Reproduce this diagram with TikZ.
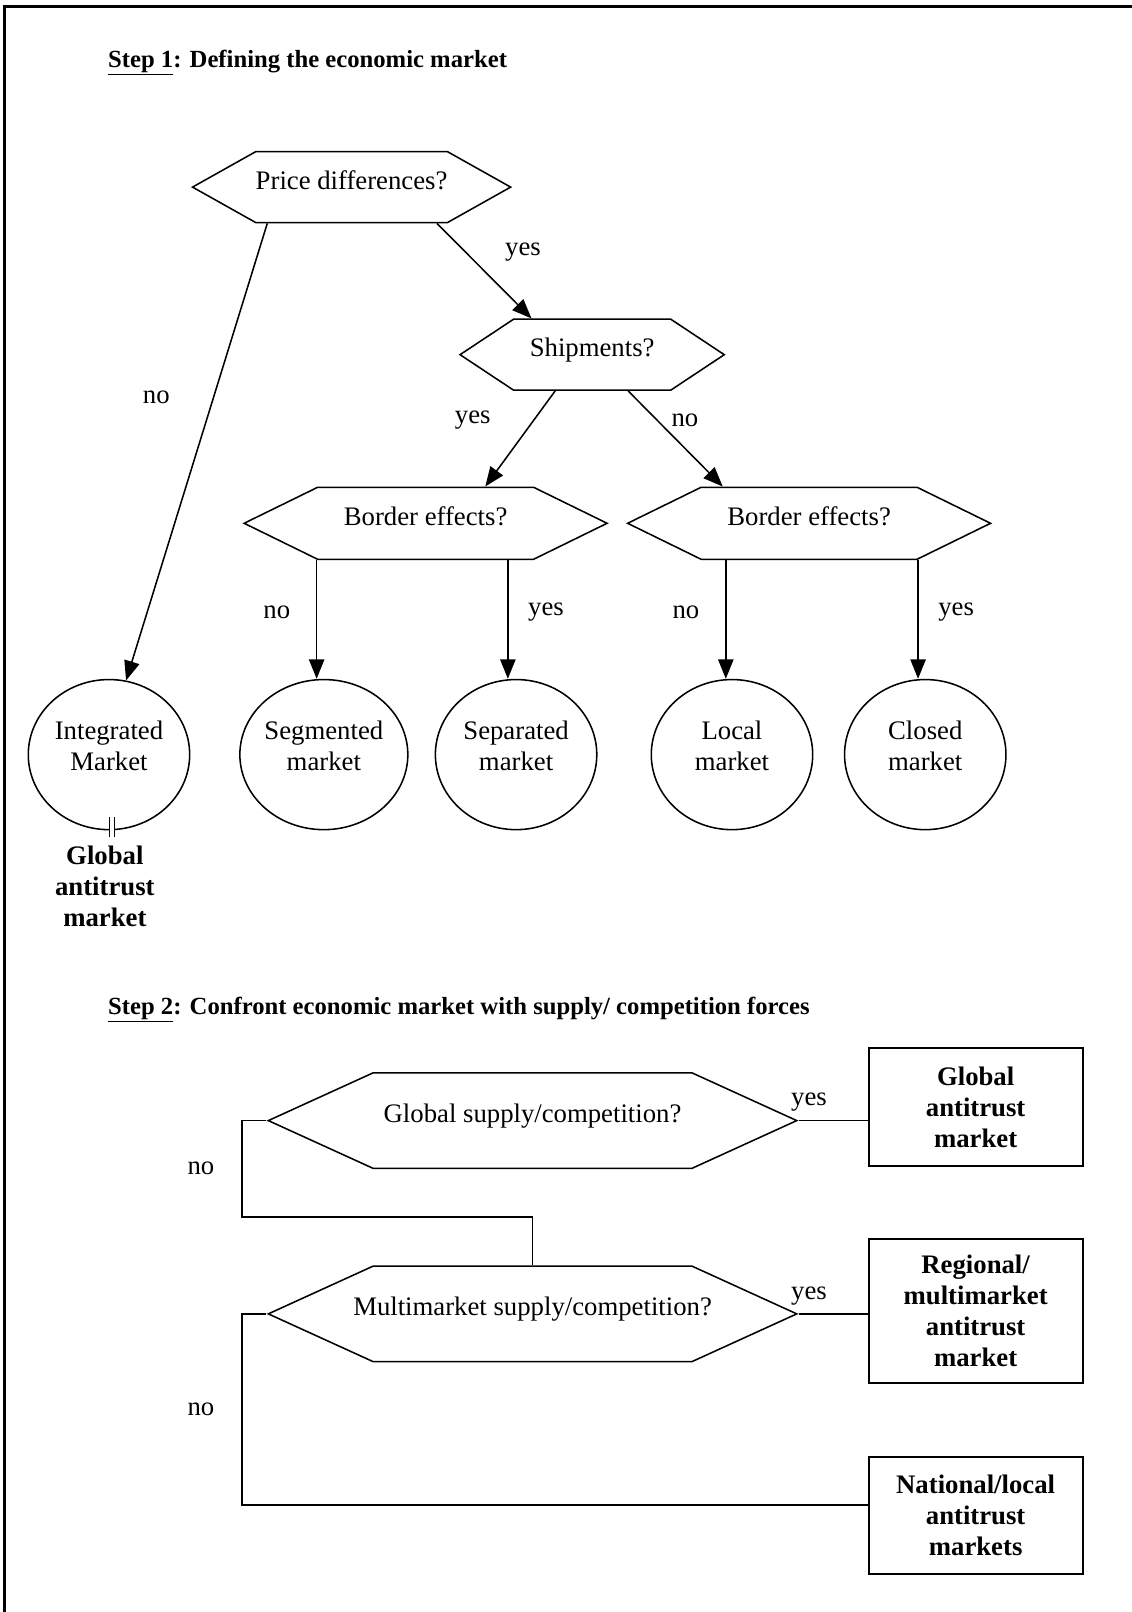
\documentclass[tikz,border=0pt]{standalone}
\usepackage{fontspec}
\setmainfont{Liberation Serif}
\usepackage{tikz}
\usetikzlibrary{arrows.meta,calc,shapes.geometric,shapes.symbols}
\tikzset{
    question/.style={signal,signal to=east and west,draw,line width=1.5pt,minimum height=69pt,text height=18pt,text depth=14pt,inner sep=0pt},
    market/.style={ellipse,draw,line width=1.5pt,minimum width=157pt,minimum height=146pt,inner sep=0pt,align=center,text depth=17pt},
    verdict/.style={align=center,font=\fontsize{26pt}{30pt}\selectfont\bfseries},
    result/.style={rectangle,draw,line width=2pt,minimum width=208pt,verdict},
    answer/.style={inner sep=0pt},
    heading/.style={anchor=west,inner sep=0pt,font=\fontsize{24pt}{28pt}\selectfont\bfseries},
    edge/.style={-{Triangle[length=19pt,width=15pt]},line width=1.5pt},
    link/.style={line width=1.5pt}
    }

\begin{document}
\begin{tikzpicture}[x=1pt,y=-1pt,font=\fontsize{26pt}{30pt}\selectfont]
        \useasboundingbox (0,0) rectangle (1101,1568);
        \draw[line width=3pt] (4,1568) -- (4,6) -- (1101,6);

        % step 1
        \node[heading] (step1) at (105,61) {\underline{Step 1}: Defining the economic market};

        \node[question, minimum width=303pt, signal pointer angle=58.6] (price) at (342,182) {Price differences?};
        \node[question, minimum width=257pt, signal pointer angle=67.1] (ship) at (576,345) {Shipments?};
        \node[question, minimum width=353pt, minimum height=70pt, signal pointer angle=52.2] (border1) at (414,509) {Border effects?};
        \node[question, minimum width=353pt, minimum height=70pt, signal pointer angle=52.2] (border2) at (787,509) {Border effects?};

        \node[market] (integrated) at (106,734) {Integrated\\Market};
        \node[market] (segmented) at (315,734) {Segmented\\market};
        \node[market] (separated) at (502,734) {Separated\\market};
        \node[market] (local) at (712,734) {Local\\market};
        \node[market] (closed) at (900,734) {Closed\\market};
        \node[verdict] (globalA) at (102,862) {Global\\antitrust\\market};

        %edges
        \draw[edge] ($(price.south)+(-82,0)$) -- (integrated.77) node[answer, pos=0.38, left=42pt] {no};
        \draw[edge] ($(price.south)+(83,0)$) -- ($(ship.north)+(-59,0)$) node[answer, pos=0.3, right=38pt] {yes};
        \draw[edge] ($(ship.south)+(-36,0)$) -- ($(border1.north)+(58,0)$) node[answer, pos=0.31, left=41pt] {yes};
        \draw[edge] ($(ship.south)+(35,0)$) -- ($(border2.north)+(-84,0)$) node[answer, pos=0.31, right=13pt] {no};

        \draw[edge] ($(border1.south)+(-106,0)$) coordinate (b1l) -- (b1l |- segmented.north) node[answer, pos=0.44, left=25pt] {no};
        \draw[edge] ($(border1.south)+(80,0)$) coordinate (b1r) -- (b1r |- separated.north) node[answer, pos=0.44, right=19pt] {yes};
        \draw[edge] ($(border2.south)+(-81,0)$) coordinate (b2l) -- (b2l |- local.north) node[answer, pos=0.44, left=25pt] {no};
        \draw[edge] ($(border2.south)+(106,0)$) coordinate (b2r) -- (b2r |- closed.north) node[answer, pos=0.44, right=19pt] {yes};

        \draw[line width=1pt, double, double distance=4pt] ($(integrated.south)+(3,-13)$) -- ($(integrated.south)+(3,6)$);

        % step 2
        \node[heading] (step2) at (105,982) {\underline{Step 2}: Confront economic market with supply/ competition forces};

        \node[question, minimum width=514pt, minimum height=93pt, signal pointer angle=49] (global) at (518,1090) {Global supply/competition?};
        \node[question, minimum width=514pt, minimum height=93pt, signal pointer angle=49, inner xsep=-30pt] (multi) at (518,1278) {Multimarket supply/competition?};

        \node[result, minimum height=115pt] (box1) at (949,1077) {Global\\antitrust\\market};
        \node[result, minimum height=140pt] (box2) at (949,1275) {Regional/\\multimarket\\antitrust\\market};
        \node[result, minimum height=114pt] (box3) at (949,1474) {National/local\\antitrust\\markets};

        \draw[link] (global.east) -- (global.east -| box1.west) node[answer, pos=0.15, above=8pt] {yes};
        \draw[link] (global.west) -- ++(-24,0) |- ($(multi.north)+(0,-47)$) node[answer, pos=0.25, left=26pt] {no} -- (multi.north);
        \draw[link] (multi.east) -- (multi.east -| box2.west) node[answer, pos=0.15, above=8pt] {yes};
        \draw[link] (multi.west) -- ++(-24,0) |- ($(box3.west)+(0,-10)$) node[answer, pos=0.25, left=26pt] {no};
    \end{tikzpicture}
\end{document}
